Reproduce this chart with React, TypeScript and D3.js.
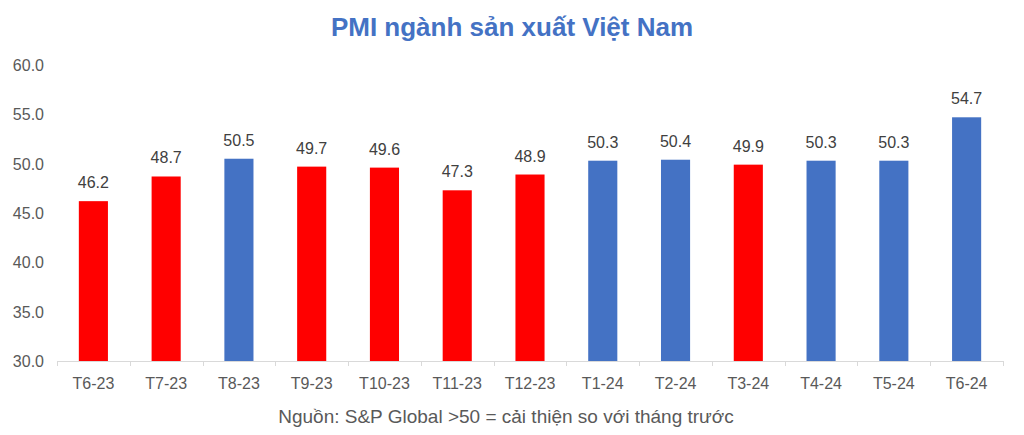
import React from "react";
import * as d3 from "d3";

const categories = ["T6-23","T7-23","T8-23","T9-23","T10-23","T11-23","T12-23","T1-24","T2-24","T3-24","T4-24","T5-24","T6-24"];
const values = [46.2,48.7,50.5,49.7,49.6,47.3,48.9,50.3,50.4,49.9,50.3,50.3,54.7];
const yTicks = [30,35,40,45,50,55,60];
const title = "PMI ngành sản xuất Việt Nam";
const footer = "Nguồn: S&P Global >50 = cải thiện so với tháng trước";

const W = 1024, H = 435;
const left = 57, right = 1003, top = 65, bottom = 361;
const font = "'Liberation Sans', Arial, sans-serif";

export default function App() {
  const x = d3.scaleBand<string>().domain(categories).range([left, right]).paddingInner(0.6).paddingOuter(0.3);
  const xb = d3.scaleBand<string>().domain(categories).range([left, right]);
  const y = d3.scaleLinear().domain([30, 60]).range([bottom, top]);
  return (
    <svg width={W} height={H} style={{ position: "absolute", left: 0, top: 0, background: "#fff" }}>
      <rect width={W} height={H} fill="#fff" />
      <text x={512} y={36} textAnchor="middle" fontFamily={font} fontWeight="bold" fontSize={26} fill="#4472C4">{title}</text>
      {yTicks.map(t => (
        <text key={t} x={44} y={y(t) + 6} textAnchor="end" fontFamily={font} fontSize={16} fill="#595959">{t.toFixed(1)}</text>
      ))}
      {categories.map((c, i) => {
        const v = values[i];
        const bx = x(c)!;
        const bw = x.bandwidth();
        return (
          <g key={c}>
            <rect x={bx} y={y(v)} width={bw} height={bottom - y(v)} fill={v > 50 ? "#4472C4" : "#FF0000"} />
            <text x={bx + bw / 2} y={y(v) - 13} textAnchor="middle" fontFamily={font} fontSize={16} fill="#404040">{v.toFixed(1)}</text>
            <text x={xb(c)! + xb.bandwidth() / 2} y={389} textAnchor="middle" fontFamily={font} fontSize={16} fill="#595959">{c}</text>
          </g>
        );
      })}
      <line x1={left} x2={right} y1={bottom + 0.5} y2={bottom + 0.5} stroke="#d9d9d9" />
      {d3.range(categories.length + 1).map(k => {
        const tx = Math.round(left + k * xb.step()) + 0.5;
        return <line key={k} x1={tx} x2={tx} y1={bottom} y2={bottom + 5} stroke="#d9d9d9" />;
      })}
      <text x={506} y={423} textAnchor="middle" fontFamily={font} fontSize={19} fill="#595959">{footer}</text>
    </svg>
  );
}
